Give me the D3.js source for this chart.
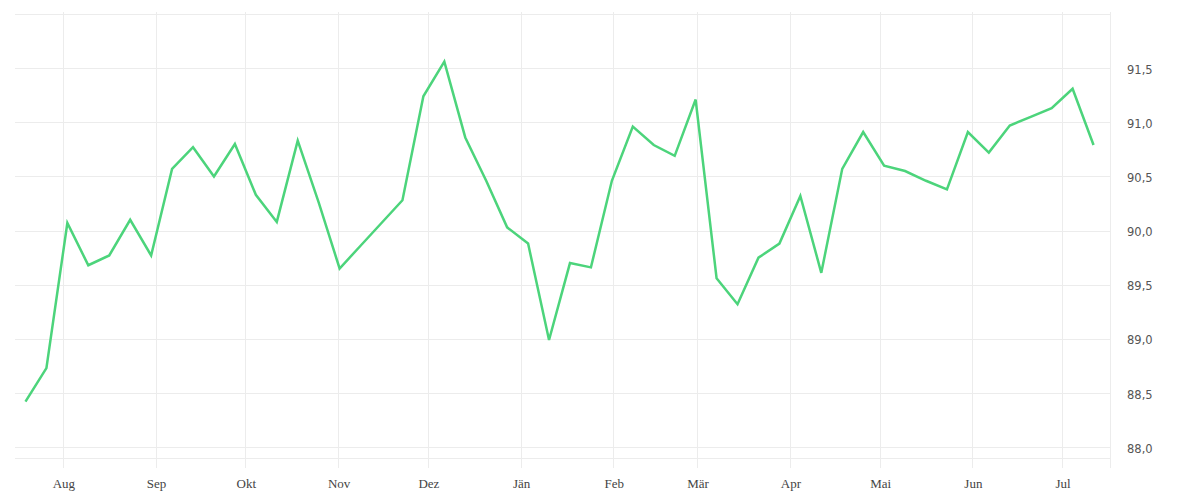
<!DOCTYPE html>
<html>
<head>
<meta charset="utf-8">
<script src="https://cdn.jsdelivr.net/npm/d3@7"></script>
<style>
    body { margin: 0; background: #fff; }
    #chart svg { display: block; }
</style>
</head>
<body>
<div id="chart"></div>
<script>
// Wochenwerte, erster Punkt 19.07.2022 (Mittag)
const startDate = new Date(2022, 6, 19, 12);
const values = [
    88.42, 88.73, 90.07, 89.68, 89.77, 90.10, 89.77, 90.57, 90.77, 90.50,
    90.80, 90.33, 90.08, 90.83, 90.26, 89.65, 89.86, 90.07, 90.28, 91.24,
    91.56, 90.86, 90.46, 90.03, 89.88, 88.99, 89.70, 89.66, 90.46, 90.96,
    90.79, 90.69, 91.21, 89.56, 89.32, 89.75, 89.88, 90.32, 89.61, 90.57,
    90.91, 90.60, 90.55, 90.46, 90.38, 90.91, 90.72, 90.97, 91.05, 91.13,
    91.31, 90.79
];
const monthLabels = ['Jän', 'Feb', 'Mär', 'Apr', 'Mai', 'Jun', 'Jul', 'Aug', 'Sep', 'Okt', 'Nov', 'Dez'];
const yTicks = [88, 88.5, 89, 89.5, 90, 90.5, 91, 91.5];
const yDomain = [87.9, 92];
const xDomain = [new Date(2022, 6, 16), new Date(2023, 6, 17)];

const width = 1200;
const height = 500;
const plotLeft = 15, plotRight = 1110, plotTop = 14, plotBottom = 458;

const data = values.map((v, i) => ({ date: d3.timeDay.offset(startDate, i * 7), value: v }));

const svg = d3.select('#chart')
    .append('svg')
    .attr('width', width)
    .attr('height', height);

const x = d3.scaleTime().domain(xDomain).range([plotLeft, plotRight]);
const y = d3.scaleLinear().domain(yDomain).range([plotBottom, plotTop]);

const de = d3.formatLocale({ decimal: ',', thousands: '.', grouping: [3], currency: ['', ' €'] });
const fmt = de.format('.1f');

// Gitter horizontal
const grid = svg.append('g').attr('stroke', '#ececec').attr('stroke-width', 1);
grid.selectAll('line.h')
    .data(yTicks.concat([92]))
    .enter()
    .append('line')
    .attr('class', 'h')
    .attr('x1', plotLeft)
    .attr('x2', plotRight)
    .attr('y1', d => Math.round(y(d)) + 0.5)
    .attr('y2', d => Math.round(y(d)) + 0.5);

// untere Linie
grid.append('line')
    .attr('x1', plotLeft).attr('x2', plotRight)
    .attr('y1', plotBottom + 0.5).attr('y2', plotBottom + 0.5);

// Gitter vertikal (Monate)
const months = d3.timeMonth.range(d3.timeMonth.ceil(xDomain[0]), xDomain[1]);
grid.selectAll('line.v')
    .data(months)
    .enter()
    .append('line')
    .attr('class', 'v')
    .attr('x1', d => Math.round(x(d)) + 0.5)
    .attr('x2', d => Math.round(x(d)) + 0.5)
    .attr('y1', 12)
    .attr('y2', 468);

grid.append('line')
    .attr('x1', plotRight + 0.5).attr('x2', plotRight + 0.5)
    .attr('y1', 12).attr('y2', 468);

// Achsenbeschriftung x
svg.append('g')
    .selectAll('text')
    .data(months)
    .enter()
    .append('text')
    .attr('x', d => x(d) + 1)
    .attr('y', 488)
    .attr('text-anchor', 'middle')
    .style('font-family', '"Liberation Serif", "DejaVu Serif", serif')
    .style('font-size', '13px')
    .style('fill', '#444')
    .text(d => monthLabels[d.getMonth()]);

// Achsenbeschriftung y
svg.append('g')
    .selectAll('text')
    .data(yTicks)
    .enter()
    .append('text')
    .attr('x', 1127)
    .attr('y', d => y(d) + 5.5)
    .style('font-family', '"DejaVu Sans", Verdana, sans-serif')
    .style('font-size', '11.5px')
    .style('fill', '#555')
    .text(d => fmt(d));

// Linie
const line = d3.line()
    .x(d => x(d.date))
    .y(d => y(d.value));

svg.append('path')
    .datum(data)
    .attr('d', line)
    .style('fill', 'none')
    .style('stroke', '#4cd47b')
    .style('stroke-width', 2.5)
    .style('stroke-linejoin', 'miter');
</script>
</body>
</html>
